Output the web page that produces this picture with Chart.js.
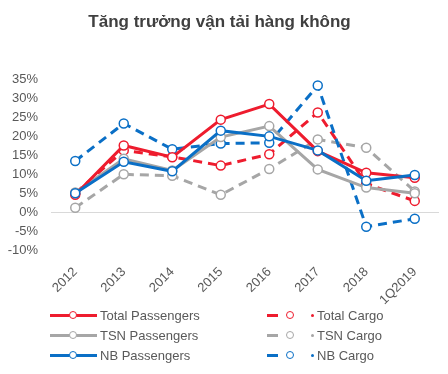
<!DOCTYPE html>
<html lang="vi">
<head>
<meta charset="UTF-8">
<title>Tăng trưởng vận tải hàng không</title>
<script src="https://cdn.jsdelivr.net/npm/chart.js"></script>
<style>
  body { margin: 0; background: #fff; font-family: "Liberation Sans", Arial, sans-serif; }
  #wrap { position: relative; width: 448px; height: 374px; }
  #legend { position: absolute; left: 0; top: 306px; width: 448px; font-size: 13px; color: #595959; }
  .item { position: absolute; height: 20px; line-height: 20px; white-space: nowrap; }
  .line { position: absolute; top: 8px; height: 3px; }
  .dot { position: absolute; top: 5px; width: 6px; height: 6px; border-radius: 50%; background: #fff; border: 1.5px solid; }
  .tiny { position: absolute; top: 8px; width: 3px; height: 3px; border-radius: 50%; }
</style>
</head>
<body>
<div id="wrap">
  <canvas id="chart" width="448" height="374"></canvas>
  <div id="legend"></div>
</div>
<script>
const years = ['2012', '2013', '2014', '2015', '2016', '2017', '2018', '1Q2019'];
const totalPassengers = [4.6, 17.6, 14.5, 24.4, 28.5, 16.1, 10.4, 9.1];
const totalCargo = [5.0, 16.3, 14.6, 12.3, 15.3, 26.3, 7.5, 3.0];
const tsnPassengers = [5.2, 14.1, 11.0, 19.8, 22.7, 11.3, 6.5, 5.0];
const tsnCargo = [1.2, 10.0, 9.6, 4.6, 11.4, 19.2, 17.0, 5.5];
const nbPassengers = [5.0, 13.3, 10.8, 21.5, 20.0, 16.3, 8.3, 9.8];
const nbCargo = [13.5, 23.4, 16.6, 18.1, 18.3, 33.4, -3.8, -1.7];

const RED = '#ee1c2e', GRAY = '#a6a6a6', BLUE = '#0a6fc6';

function series(label, data, color, dashed, order) {
    return {
        label: label,
        data: data,
        borderColor: color,
        backgroundColor: '#fff',
        borderWidth: 3,
        borderDash: dashed ? [9, 6] : [],
        pointRadius: 4.5,
        pointBorderWidth: 1.5,
        pointBackgroundColor: '#fff',
        pointBorderColor: color,
        tension: 0,
        fill: false,
        order: order
    };
}

const datasets = [
    series('Total Passengers', totalPassengers, RED, false, 2),
    series('Total Cargo', totalCargo, RED, true, 5),
    series('TSN Passengers', tsnPassengers, GRAY, false, 3),
    series('TSN Cargo', tsnCargo, GRAY, true, 6),
    series('NB Passengers', nbPassengers, BLUE, false, 1),
    series('NB Cargo', nbCargo, BLUE, true, 4)
];

new Chart(document.getElementById('chart'), {
    type: 'line',
    data: { labels: years, datasets: datasets },
    options: {
        responsive: false,
        animation: false,
        layout: { padding: { left: 0, right: 9, top: 0, bottom: 60 } },
        plugins: {
            legend: { display: false },
            tooltip: { enabled: false },
            title: {
                display: true,
                text: 'Tăng trưởng vận tải hàng không',
                color: '#404040',
                font: { family: '"Liberation Sans", Arial, sans-serif', size: 17, weight: 'bold' },
                padding: { top: 12, bottom: 47 }
            }
        },
        scales: {
            x: {
                offset: true,
                grid: { display: false },
                border: { display: false },
                ticks: {
                    autoSkip: false,
                    color: '#595959',
                    font: { family: '"Liberation Sans", Arial, sans-serif', size: 13 },
                    minRotation: 45,
                    maxRotation: 45,
                    padding: 6
                }
            },
            y: {
                min: -10,
                max: 35,
                border: { display: false },
                grid: {
                    drawTicks: false,
                    color: ctx => ctx.tick && ctx.tick.value === 0 ? '#d9d9d9' : 'rgba(0,0,0,0)'
                },
                ticks: {
                    stepSize: 5,
                    autoSkip: false,
                    padding: 13,
                    color: '#595959',
                    font: { family: '"Liberation Sans", Arial, sans-serif', size: 13 },
                    callback: v => v + '%'
                },
                afterFit: s => { s.width = 51; }
            }
        }
    }
});

// legend: two columns like the original
const legend = document.getElementById('legend');
const rows = [
    ['Total Passengers', RED, 'Total Cargo'],
    ['TSN Passengers', GRAY, 'TSN Cargo'],
    ['NB Passengers', BLUE, 'NB Cargo']
];
rows.forEach((r, i) => {
    const top = i * 20;
    legend.insertAdjacentHTML('beforeend',
        '<div class="item" style="left:50px;top:' + top + 'px">' +
        '<span class="line" style="left:0;width:47px;background:' + r[1] + '"></span>' +
        '<span class="dot" style="left:19px;border-color:' + r[1] + '"></span>' +
        '<span style="position:absolute;left:50px">' + r[0] + '</span></div>');
    legend.insertAdjacentHTML('beforeend',
        '<div class="item" style="left:267px;top:' + top + 'px">' +
        '<span class="line" style="left:0;width:11px;background:' + r[1] + '"></span>' +
        '<span class="dot" style="left:19px;border-color:' + r[1] + '"></span>' +
        '<span class="tiny" style="left:44px;background:' + r[1] + '"></span>' +
        '<span style="position:absolute;left:50px">' + r[2] + '</span></div>');
});
</script>
</body>
</html>
